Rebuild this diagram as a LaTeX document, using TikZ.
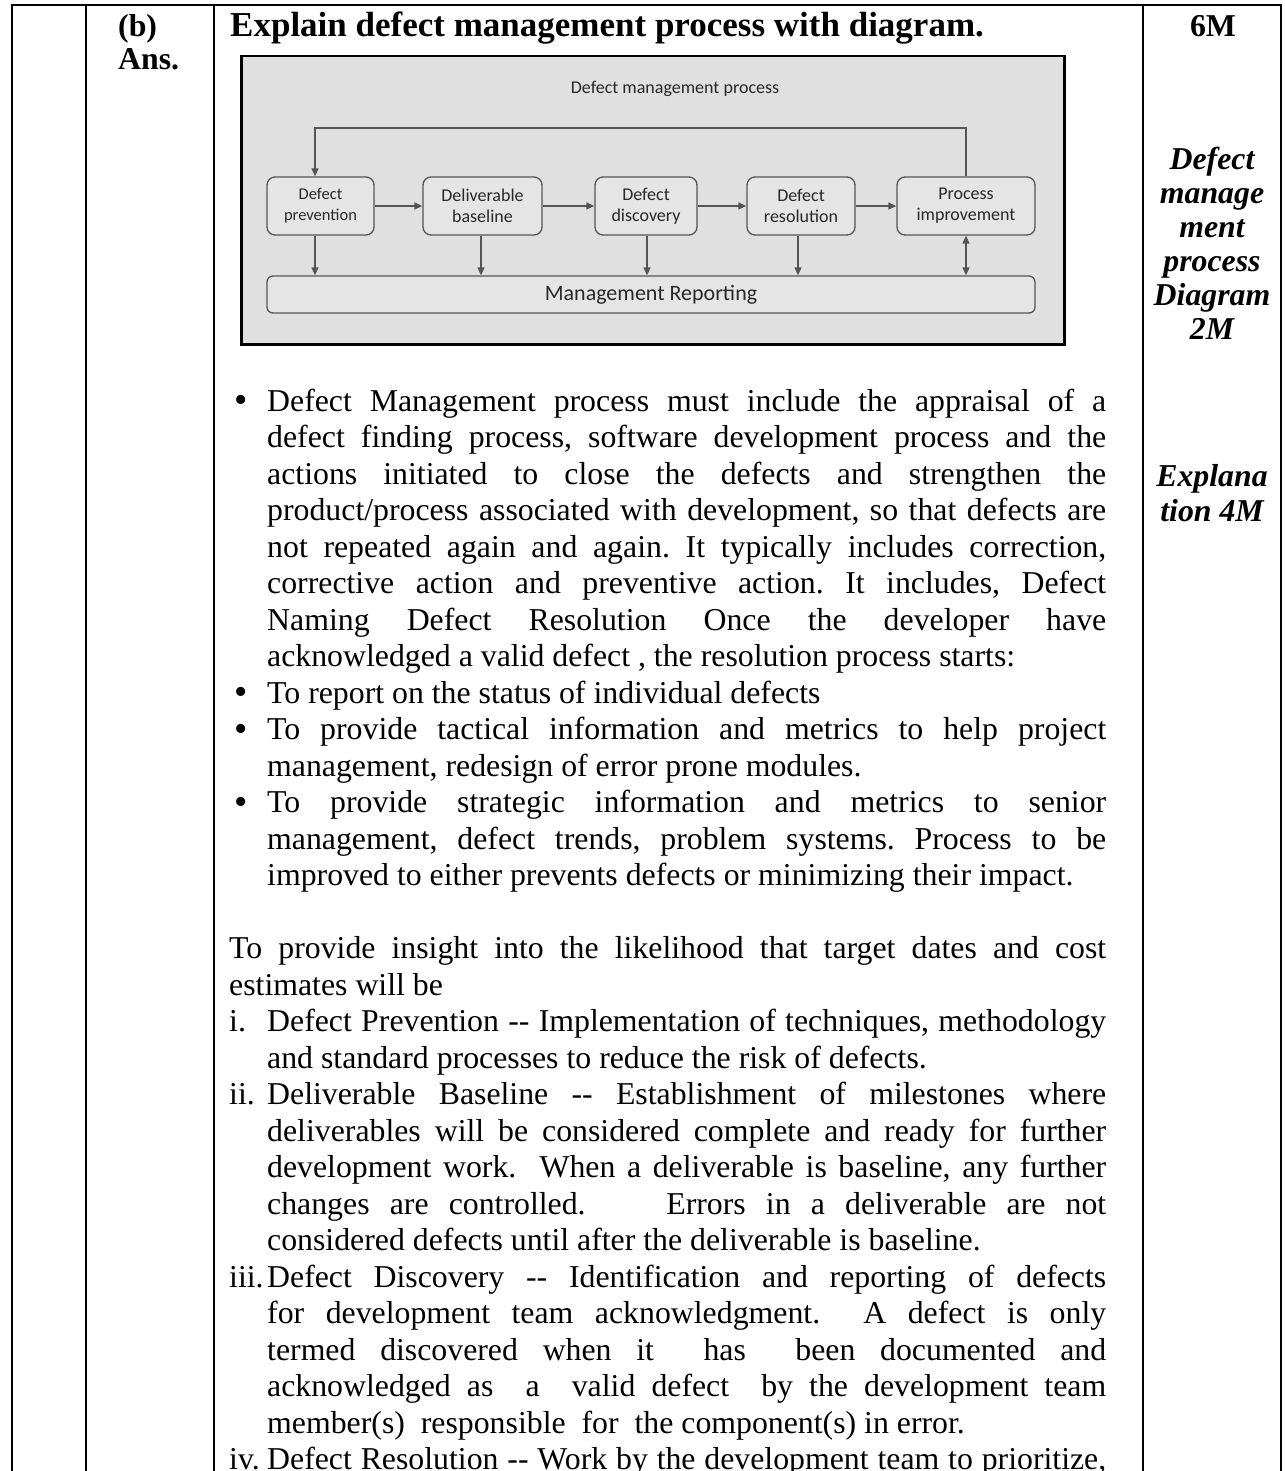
\documentclass[tikz,border=0pt]{standalone}
\usepackage{fontspec}
\setmainfont{Liberation Serif}
\newfontfamily\diagfont{Carlito}
\usetikzlibrary{arrows.meta}
\definecolor{framebg}{RGB}{224,224,224}
\definecolor{boxbg}{RGB}{229,229,229}
\definecolor{boxline}{RGB}{85,85,85}
\definecolor{diagtext}{RGB}{40,40,40}
\newcommand\bodyfont{\fontsize{31.8}{36.5}\selectfont\frenchspacing}
\newcommand\hdrfont{\fontsize{31.8}{33}\selectfont\bfseries}
\newcommand\sideline[1]{\hbox to 138pt{\hss#1\hss}}
\newcommand\ansline[1]{\hbox{#1}}
\newcommand\bul{\makebox[38pt][l]{\hskip5pt\raisebox{-1.5pt}{\fontsize{38}{38}\selectfont\textbullet}}}
\newcommand\LJ[1]{\hbox{\hskip38pt\makebox[839pt][s]{#1}}}
\newcommand\LN[1]{\hbox{\hskip38pt #1}}
\newcommand\FJ[1]{\hbox{\makebox[877pt][s]{#1}}}
\newcommand\FN[1]{\hbox{#1}}
\newcommand\BJ[1]{\hbox{\bul\makebox[839pt][s]{#1}}}
\newcommand\BN[1]{\hbox{\bul#1}}
\newcommand\NJ[2]{\hbox{\makebox[38pt][l]{#1}\makebox[839pt][s]{#2}}}
\begin{document}
\begin{tikzpicture}[x=1pt,y=-1pt,
  tbl/.style={line width=2pt,draw=black},
  pbox/.style={draw=boxline,line width=1.3pt,rounded corners=8pt,fill=boxbg,
    minimum height=58pt,align=center,inner sep=0pt,text=diagtext,
    font=\diagfont\fontsize{18}{21}\selectfont},
  arr/.style={draw=boxline,line width=1.3pt,-{Triangle[length=8pt,width=7pt]}},
  darr/.style={draw=boxline,line width=1.3pt,{Triangle[length=8pt,width=7pt]}-{Triangle[length=8pt,width=7pt]}}]
\useasboundingbox (0,0) rectangle (1284,1471);
\fill[white] (0,0) rectangle (1284,1471);
% table rules
\draw[tbl] (11,5) -- (1282,5);
\draw[tbl] (12,5) -- (12,1471);
\draw[tbl] (86,5) -- (86,1471);
\draw[tbl] (214,5) -- (214,1471);
\draw[tbl] (1143,5) -- (1143,1471);
\draw[tbl] (1281,5) -- (1281,1471);
% header
\node[anchor=base west,inner sep=0pt] (ans) at (118,37) {\vtop{\hdrfont\ansline{(b)}\ansline{Ans.}}};
\node[anchor=base west,inner sep=0pt] (q) at (230,37) {\fontsize{35}{36}\selectfont\bfseries Explain defect management process with diagram.};
\node[anchor=base,inner sep=0pt] (marks) at (1213,37) {\hdrfont 6M};
\node[anchor=base,inner sep=0pt] (side1) at (1212,170) {\vtop{\fontsize{31.8}{34}\selectfont\bfseries\itshape
  \sideline{Defect}\sideline{manage}\sideline{ment}\sideline{process}\sideline{Diagram}\sideline{2M}}};
\node[anchor=base,inner sep=0pt] (side2) at (1212,486) {\vtop{\fontsize{31.8}{35}\selectfont\bfseries\itshape
  \sideline{Explana}\sideline{tion 4M}}};
% diagram
\node[draw=black,line width=2.5pt,fill=framebg,minimum width=823pt,minimum height=288pt,
  anchor=north west,inner sep=0pt] (frame) at (240,55) {};
\node[text=diagtext,font=\diagfont\fontsize{18}{21}\selectfont,inner sep=0pt] (title) at (675,89) {Defect management process};
\node[pbox,minimum width=107pt,font=\diagfont\fontsize{16.5}{21}\selectfont] (dp) at (320.5,206) {Defect\\prevention};
\node[pbox,minimum width=119pt] (db) at (482.5,206) {Deliverable\\baseline};
\node[pbox,minimum width=102pt] (dd) at (646,206) {Defect\\discovery};
\node[pbox,minimum width=108pt] (dr) at (801,206) {Defect\\resolution};
\node[pbox,minimum width=138pt] (pi) at (966,206) {Process\\improvement};
\node[pbox,minimum width=768pt,minimum height=37pt,rounded corners=6pt,
  font=\diagfont\fontsize{22}{24}\selectfont] (mr) at (651,294.5) {Management Reporting};
\coordinate (fb) at (0,128);
\draw[arr] (dp) -- (db);
\draw[arr] (db) -- (dd);
\draw[arr] (dd) -- (dr);
\draw[arr] (dr) -- (pi);
\draw[arr] (pi.north) -- (pi.north |- fb) -| ([xshift=-5.5pt]dp.north);
\draw[arr] ([xshift=-5.5pt]dp.south) -- ([xshift=-5.5pt]dp.south |- mr.north);
\draw[arr] ([xshift=-1.5pt]db.south) -- ([xshift=-1.5pt]db.south |- mr.north);
\draw[arr] ([xshift=1pt]dd.south) -- ([xshift=1pt]dd.south |- mr.north);
\draw[arr] ([xshift=-3pt]dr.south) -- ([xshift=-3pt]dr.south |- mr.north);
\draw[darr] (pi.south) -- (pi.south |- mr.north);
% body text
\node[anchor=base west,inner sep=0pt] (body) at (229,411) {\vtop{\bodyfont
\BJ{Defect Management process must include the appraisal of a}
\LJ{defect finding process, software development process and the}
\LJ{actions initiated to close the defects and strengthen the}
\LJ{product/process associated with development, so that defects are}
\LJ{not repeated again and again. It typically includes correction,}
\LJ{corrective action and preventive action. It includes, Defect}
\LJ{Naming Defect Resolution Once the developer have}
\LN{acknowledged a valid defect , the resolution process starts:}
\BN{To report on the status of individual defects}
\BJ{To provide tactical information and metrics to help project}
\LN{management, redesign of error prone modules.}
\BJ{To provide strategic information and metrics to senior}
\LJ{management, defect trends, problem systems. Process to be}
\LN{improved to either prevents defects or minimizing their impact.}
\hbox{}
\FJ{To provide insight into the likelihood that target dates and cost}
\FN{estimates will be}
\NJ{i.}{Defect Prevention -{}- Implementation of techniques, methodology}
\LN{and standard processes to reduce the risk of defects.}
\NJ{ii.}{Deliverable Baseline -{}- Establishment of milestones where}
\LJ{deliverables will be considered complete and ready for further}
\LJ{development work.\ \ When a deliverable is baseline, any further}
\LJ{changes are controlled.\ \ \ \ Errors in a deliverable are not}
\LN{considered defects until after the deliverable is baseline.}
\NJ{iii.}{Defect Discovery -{}- Identification and reporting of defects}
\LJ{for development team acknowledgment.\ \ A defect is only}
\LJ{termed discovered when it\ \ has\ \ been documented and}
\LJ{acknowledged as\ \ a\ \ valid defect\ \ by the development team}
\LN{member(s)\ \ responsible\ \ for\ \ the component(s) in error.}
\NJ{iv.}{Defect Resolution -{}- Work by the development team to prioritize,}
}};
\end{tikzpicture}
\end{document}
